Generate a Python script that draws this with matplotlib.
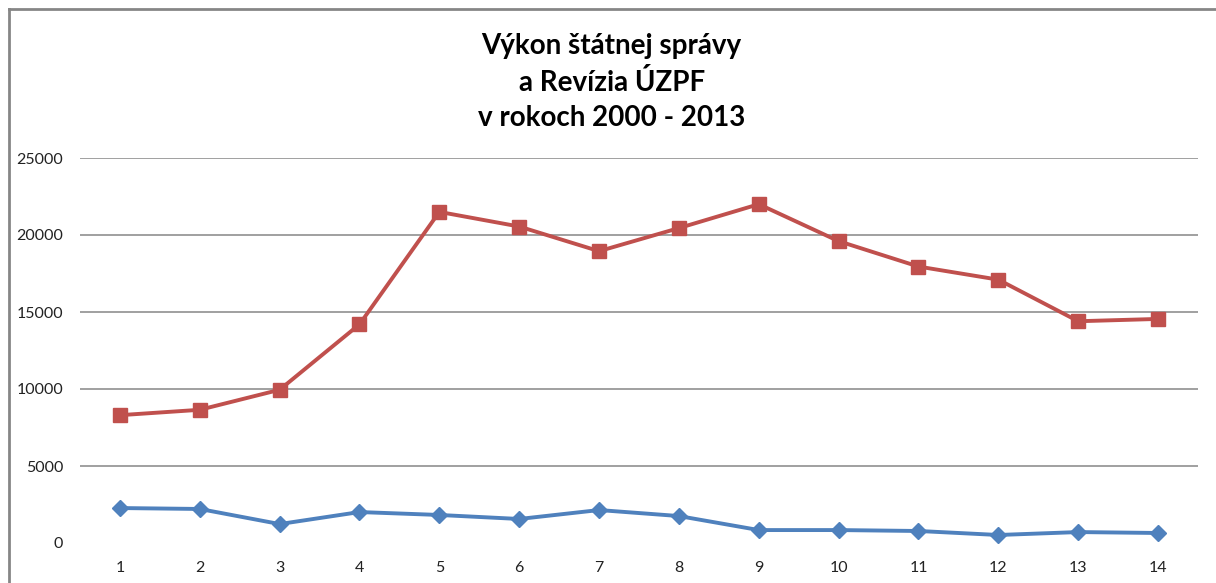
import matplotlib.pyplot as plt
from matplotlib.lines import Line2D

# data
roky = list(range(1, 15))
revizia = [8300, 8650, 9950, 14200, 21500, 20550, 18950, 20450, 22000, 19600, 17950, 17100, 14400, 14550]
vykon = [2270, 2210, 1230, 2010, 1820, 1560, 2140, 1750, 840, 840, 780, 520, 710, 650]
y_ticks = [0, 5000, 10000, 15000, 20000, 25000]

plt.rcParams['font.family'] = ['Lato', 'DejaVu Sans']

fig = plt.figure(figsize=(12.16, 5.83), dpi=100)
ax = fig.add_axes([80 / 1216, 1 - 543 / 583, (1198 - 80) / 1216, (543 - 158) / 583])

ax.plot(roky, revizia, color='#C0504D', linewidth=2.8, marker='s', markersize=10.5,
        zorder=3)
ax.plot(roky, vykon, color='#4F81BD', linewidth=2.8, marker='D', markersize=8.5,
        zorder=3)

ax.set_xlim(0.5, 14.5)
ax.set_ylim(0, 25000)
ax.set_xticks(roky)
ax.set_yticks(y_ticks)
ax.set_xticklabels([str(r) for r in roky])
ax.set_yticklabels([str(v) for v in y_ticks])
ax.tick_params(axis='both', length=0, labelsize=11.5, colors='#222222')
ax.tick_params(axis='y', pad=12)
ax.tick_params(axis='x', pad=13)

ax.yaxis.grid(True, color='#868686', linewidth=1.1)
ax.get_ygridlines()[0].set_visible(False)
ax.set_axisbelow(True)
for s in ax.spines.values():
    s.set_visible(False)

# outer chart frame (top and left edges visible)
fig.add_artist(Line2D([9 / 1216, 9 / 1216], [0, 1 - 9 / 583], transform=fig.transFigure,
                      color='#868686', linewidth=2))
fig.add_artist(Line2D([9 / 1216, 1], [1 - 9 / 583, 1 - 9 / 583], transform=fig.transFigure,
                      color='#868686', linewidth=2))

fig.text(0.503, 1 - 82 / 583, "Výkon štátnej správy\na Revízia ÚZPF\nv rokoch 2000 - 2013",
         ha='center', va='center', fontsize=20, fontweight='bold', linespacing=1.45)

fig.savefig('out.png', dpi=100)
